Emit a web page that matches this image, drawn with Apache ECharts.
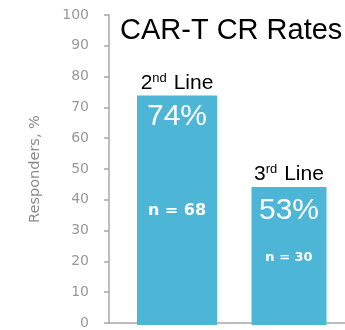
<!DOCTYPE html>
<html>
<head>
<meta charset="utf-8">
<script src="https://cdn.jsdelivr.net/npm/echarts@6/dist/echarts.min.js"></script>
<style>
  html, body { margin: 0; padding: 0; background: #ffffff; }
  #chart { width: 345px; height: 330px; }
</style>
</head>
<body>
<div id="chart"></div>
<script>
// ---- data ----
const categories = ['2nd Line', '3rd Line'];
const barValues = [74, 44.5];          // bar heights as drawn on the axis
const pctLabels = ['74%', '53%'];      // CR rate text shown in bars
const nLabels = ['n = 68', 'n = 30'];
const yMin = 0, yMax = 100, yStep = 10;
const titleText = 'CAR-T CR Rates';
const yAxisName = 'Responders, %';

// ---- styles ----
const barColor = '#4db5d6';
const axisColor = '#a8a8a8';
const barWidths = [80, 75];
const pctDistance = [6, 9];
const nDistance = [107, 64];
const nFontSize = [16, 13];

function catRich(name) {
  const m = name.match(/^(\d+)([a-z]+)(.*)$/);
  return '{m|' + m[1] + '}{s|' + m[2] + '}{m|' + m[3] + '}';
}

const chart = echarts.init(document.getElementById('chart'));

const xAxes = [{
  gridIndex: 0, type: 'category', data: categories,
  axisLine: { show: true, lineStyle: { color: axisColor, width: 1.5 } },
  axisTick: { show: false }, axisLabel: { show: false }
}];
const series = [];
categories.forEach((c, i) => {
  xAxes.push({ gridIndex: 1, type: 'category', data: categories, show: false });
  const one = (v) => categories.map((_, j) => (j === i ? v : '-'));
  const axIdx = i + 1;
  series.push({
    type: 'bar', xAxisIndex: axIdx, yAxisIndex: 1, barWidth: barWidths[i], barGap: '-100%',
    data: one(barValues[i]), itemStyle: { color: barColor },
    label: { show: true, position: 'insideTop', distance: pctDistance[i],
      formatter: () => pctLabels[i], color: '#ffffff',
      fontFamily: 'Liberation Sans', fontSize: 30, lineHeight: 30 },
    silent: true, animation: false
  });
  series.push({
    type: 'bar', xAxisIndex: axIdx, yAxisIndex: 1, barWidth: barWidths[i], barGap: '-100%',
    data: one(barValues[i]), itemStyle: { color: 'rgba(0,0,0,0)' },
    label: { show: true, position: 'insideTop', distance: nDistance[i],
      formatter: () => nLabels[i], color: '#ffffff', fontWeight: 'bold',
      fontFamily: 'DejaVu Sans', fontSize: nFontSize[i], lineHeight: nFontSize[i] },
    silent: true, animation: false
  });
  series.push({
    type: 'bar', xAxisIndex: axIdx, yAxisIndex: 1, barWidth: barWidths[i], barGap: '-100%',
    data: one(barValues[i]), itemStyle: { color: 'rgba(0,0,0,0)' },
    label: { show: true, position: 'top', distance: 2,
      formatter: () => catRich(c),
      rich: {
        m: { fontFamily: 'Liberation Sans', fontSize: 21, color: '#000', lineHeight: 22, verticalAlign: 'bottom' },
        s: { fontFamily: 'Liberation Sans', fontSize: 13, color: '#000', lineHeight: 22, verticalAlign: 'top', padding: [0, 1, 8, 0] }
      } },
    silent: true, animation: false
  });
});

chart.setOption({
  animation: false,
  title: { text: titleText, left: 115, top: 11,
    textStyle: { fontFamily: 'Liberation Sans', fontSize: 29, fontWeight: 'normal', color: '#000' } },
  grid: [
    { left: 109, right: 0, top: 15, bottom: 5 },
    { left: 121, right: 0, top: 15, bottom: 5 }
  ],
  xAxis: xAxes,
  yAxis: [{
    gridIndex: 0, type: 'value', min: yMin, max: yMax, interval: yStep,
    name: yAxisName, nameLocation: 'middle', nameGap: 66, nameRotate: 90,
    nameTextStyle: { fontFamily: 'DejaVu Sans', fontSize: 14.5, color: '#8c8c8c' },
    axisLine: { show: true, lineStyle: { color: axisColor, width: 1.5 } },
    axisTick: { show: true, length: 5, lineStyle: { color: axisColor, width: 1.5 } },
    axisLabel: { margin: 20, fontFamily: 'DejaVu Sans', fontSize: 14, color: '#999999' },
    splitLine: { show: false }
  }, {
    gridIndex: 1, type: 'value', min: yMin, max: yMax, interval: yStep, show: false
  }],
  series: series
});
</script>
</body>
</html>
